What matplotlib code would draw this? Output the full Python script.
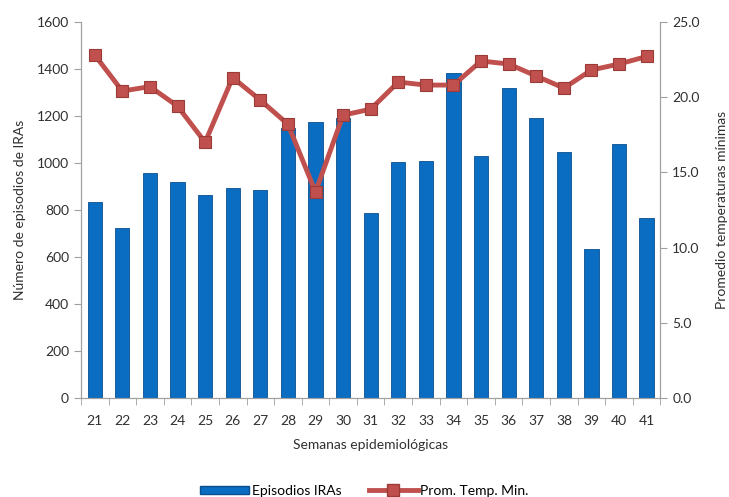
import matplotlib.pyplot as plt
from matplotlib.lines import Line2D
from matplotlib.patches import Patch

plt.rcParams['font.family'] = ['Lato', 'DejaVu Sans']

# Semanas epidemiológicas
semanas = ['21', '22', '23', '24', '25', '26', '27', '28', '29', '30', '31',
           '32', '33', '34', '35', '36', '37', '38', '39', '40', '41']

# Episodios IRAs (eje izquierdo)
episodios = [835, 724, 958, 921, 863, 895, 884, 1150, 1176, 1193, 788,
             1004, 1010, 1381, 1031, 1320, 1193, 1048, 634, 1080, 767]

# Promedio temperaturas mínimas (eje derecho)
temp_min = [22.8, 20.4, 20.7, 19.4, 17.0, 21.3, 19.8, 18.2, 13.7, 18.8, 19.2,
            21.0, 20.8, 20.8, 22.4, 22.2, 21.4, 20.6, 21.8, 22.2, 22.7]

fig = plt.figure(figsize=(7.29, 4.97), dpi=100)
ax = fig.add_axes([0.111, 0.199, 0.795, 0.757])
x = list(range(len(semanas)))

ax.bar(x, episodios, width=0.52, color='#0a6dc2', edgecolor='#0a4f8f',
       linewidth=0.6, zorder=2)
ax.set_xlim(-0.5, len(semanas) - 0.5)
ax.set_ylim(0, 1600)
ax.set_yticks(range(0, 1601, 200))
ax.set_xticks(x)
ax.set_xticklabels(semanas)
ax.set_xticks([i + 0.5 for i in range(-1, len(semanas))], minor=True)
ax.tick_params(axis='x', which='major', length=0, pad=12)
ax.tick_params(axis='x', which='minor', length=5, color='#a0a0a0')
ax.tick_params(axis='y', length=5, color='#a0a0a0')
ax.tick_params(labelsize=10, labelcolor='#303030')
ax.set_ylabel('Número de episodios de IRAs', fontsize=10, color='#303030', labelpad=8)
ax.set_xlabel('Semanas epidemiológicas', fontsize=10, color='#303030', labelpad=9)

ax2 = ax.twinx()
ax2.plot(x, temp_min, color='#c0504d', linewidth=3.5, marker='s',
         markersize=8.5, markerfacecolor='#c0504d', markeredgecolor='#9a3b38',
         markeredgewidth=0.8, zorder=3)
ax2.set_ylim(0, 25)
ax2.set_yticks([0, 5, 10, 15, 20, 25])
ax2.set_yticklabels(['%.1f' % v for v in [0, 5, 10, 15, 20, 25]])
ax2.tick_params(axis='y', length=5, color='#a0a0a0', labelsize=10, labelcolor='#303030')
ax2.set_ylabel('Promedio temperaturas mínimas', fontsize=10, color='#303030', labelpad=12)

for a in (ax, ax2):
    a.spines['top'].set_visible(False)
    for side in ('left', 'right', 'bottom'):
        a.spines[side].set_color('#a0a0a0')

handles = [Patch(facecolor='#0a6dc2', edgecolor='#0a4f8f'),
           Line2D([0], [0], color='#c0504d', linewidth=3.5, marker='s',
                  markersize=8, markeredgecolor='#9a3b38')]
fig.legend(handles, ['Episodios IRAs', 'Prom. Temp. Min.'], loc='lower center',
           bbox_to_anchor=(0.5, -0.025), ncol=2, frameon=False, fontsize=10,
           handlelength=3.5, handleheight=0.6, handletextpad=0.2, columnspacing=2)

fig.savefig('out.png', dpi=100)
